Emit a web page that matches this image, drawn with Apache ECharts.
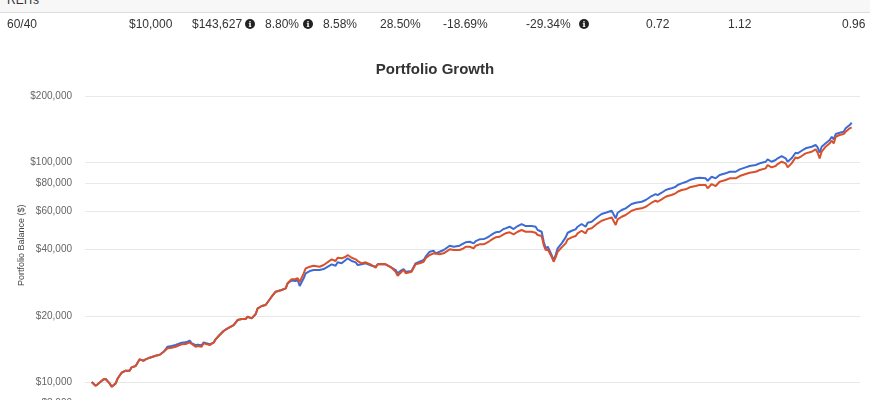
<!DOCTYPE html>
<html>
<head>
<meta charset="utf-8">
<title>Portfolio Growth</title>
<script src="https://cdn.jsdelivr.net/npm/echarts@6/dist/echarts.min.js"></script>
<style>
  html, body { margin: 0; padding: 0; background: #fff; width: 870px; height: 400px; overflow: hidden; }
  body { position: relative; font-family: 'Liberation Sans', Arial, Helvetica, sans-serif; color: #333; }
  #chart { position: absolute; left: 0; top: 0; width: 870px; height: 470px; }
  .band { position: absolute; left: 0; top: 0; width: 870px; height: 12px; background: #f7f7f7; border-bottom: 1px solid #dddddd; overflow: hidden; }
  .band span { position: absolute; left: 7px; top: -7px; font-size: 12px; line-height: 14px; color: #333; }
  .cell { position: absolute; top: 17px; font-size: 12px; line-height: 14px; white-space: nowrap; color: #333; }
  .info { position: absolute; top: 19px; width: 10px; height: 10px; border-radius: 50%; background: #222; color: #fff;
          font: bold 8px/10px 'DejaVu Serif', serif; text-align: center; }
</style>
</head>
<body>
<div id="chart"></div>
<div class="band"><span id="header"></span></div>
<div id="stats"></div>
<script>
// stats row above the chart
const statHeader = 'REITs';
const statCells = ['60/40', '$10,000', '$143,627', '8.80%', '8.58%', '28.50%', '-18.69%', '-29.34%', '0.72', '1.12', '0.96'];
const infoAfterCell = [2, 3, 7];

// months since Jan 1990 for each traced point
const startYear = 1990;
const monthOffsets = [0,2,3,4,6,7,9,10,12,13,15,17,18,19,20,22,23,24,26,27,29,32,34,36,38,40,42,45,47,49,50,52,53,55,56,57,59,61,62,64,
  66,68,71,73,75,77,78,80,82,83,85,87,88,90,92,93,95,97,98,100,102,103,104,106,107,109,111,112,114,116,117,120,122,123,125,127,128,130,132,133,
  135,137,138,140,142,143,145,147,148,150,152,153,155,156,157,158,160,162,164,166,167,169,171,172,174,176,177,179,181,182,184,186,187,189,191,192,194,196,197,199,
  201,202,204,206,207,209,211,213,215,217,218,220,222,223,225,226,227,228,230,231,232,233,235,237,238,240,242,243,245,247,248,250,251,253,255,257,258,260,262,263,
  265,267,268,270,272,273,275,277,278,280,282,283,285,287,288,290,292,293,295,297,299,302,304,307,308,310,312,314,317,319,322,324,327,329,332,334,337,338,340,342,
  343,345,347,348,350,352,353,355,357,360,362,363,364,365,367,369,370,371,372,374,376,377,379,380];

// blue line
const portfolioBalance = [10000,9620,9760,9690,10290,10320,9860,9520,9860,10390,11020,11260,11420,11260,11660,11820,11950,12680,12500,12680,
  12900,13170,13310,13730,14470,14580,14730,15090,15150,15410,15040,14730,14780,14680,15150,15040,14840,15150,15630,16350,
  17060,17540,18160,19140,19340,19340,19810,19480,20380,21630,22160,22390,22790,24420,25730,25460,26190,26660,28100,28930,
  28780,29080,27310,29610,31200,31960,32290,32630,32290,32630,32870,34280,33780,35000,34640,35860,36500,35480,35000,34030,
  34280,34640,34030,33780,33430,34280,34390,34280,33780,33080,32290,31200,32290,32630,31720,31960,31960,34640,35220,35860,
  37120,39110,39520,38460,39110,39810,40530,41650,41210,41950,41650,42700,43150,43430,42700,43740,44530,44670,45000,46090,
  47420,47910,48220,49600,49960,50810,49600,51180,52260,51180,50490,51180,50810,49080,48220,43430,40530,41210,37780,35860,
  37780,40530,42700,45470,47710,48720,49440,50810,52260,50810,52980,53540,54500,56410,58030,58830,58830,60070,55480,58830,
  60510,61600,62250,64430,65320,66000,66000,67190,68390,70060,71540,70800,72520,74600,75150,75940,77220,78610,80020,81110,
  82830,84320,84850,84320,82220,85740,84320,87280,88850,90350,90350,92650,94600,95900,96910,98650,100320,102870,100320,102120,
  103950,106480,103950,100320,103950,110220,109530,112560,115420,117370,119480,116630,110220,117370,121620,125900,130320,126820,134050,135890,
  137320,142300,147300,150890];

// red line (60/40)
const balance6040 = [10000,9620,9760,9690,10290,10320,9860,9520,9860,10390,11020,11260,11420,11260,11660,11820,11950,12680,12500,12680,
  12900,13170,13310,13730,14230,14320,14470,14840,14880,15150,14840,14470,14580,14470,14990,14880,14730,15090,15630,16350,
  17060,17540,18160,19140,19340,19340,19810,19480,20380,21630,22160,22390,22790,24420,25730,25460,26190,26660,28100,29300,
  29390,29610,28480,31200,32870,33430,33780,34280,33430,34030,34640,36120,35480,36730,36500,37120,37780,36730,36120,35480,
  34640,35000,34280,34030,33080,34280,34390,34280,33780,33080,31720,30420,31720,32290,31200,31720,31720,34280,34640,35220,
  36500,37780,38460,37780,38060,38460,39110,40110,39810,40230,39810,40530,41210,41210,40530,41650,42260,42260,42700,43740,
  45000,45470,45760,46920,47420,47910,46920,48220,49080,48220,47420,48220,47710,46580,46090,41950,39810,40110,37120,35220,
  36880,39110,40950,42700,44530,45470,46090,47420,48720,47420,49440,49960,50810,52650,54100,54900,54900,56060,51720,54900,
  56410,57430,58030,60070,60960,61600,61600,62640,63760,65320,66700,66000,67680,69550,70060,70800,72070,73280,74600,75150,
  76740,77790,78610,78610,75940,79440,77790,81370,82830,84320,84320,86370,88200,89410,90350,91970,93620,96910,94600,95900,
  97930,100320,98650,94600,98650,105040,103950,106480,109530,111380,114220,110220,103950,111380,117370,121620,124980,121620,130320,132660,
  134050,137320,142300,143627];

const yTickValues = [8000, 10000, 20000, 40000, 60000, 80000, 100000, 200000];

// stats row layout
const cellX = [7, 129, 192, 265, 323, 380, 443, 526, 646, 728, 842];
const infoX = [245, 303, 579];

document.getElementById('header').textContent = statHeader;
const stats = document.getElementById('stats');
statCells.forEach((txt, i) => {
  const d = document.createElement('div');
  d.className = 'cell';
  d.style.left = cellX[i] + 'px';
  d.textContent = txt;
  stats.appendChild(d);
});
infoAfterCell.forEach((c, i) => {
  const d = document.createElement('div');
  d.className = 'info';
  d.style.left = infoX[i] + 'px';
  d.textContent = 'i';
  stats.appendChild(d);
});

const dates = monthOffsets.map(m => new Date(startYear, m, 1).getTime());
const monthMs = 30.44 * 86400000;
const toPairs = arr => dates.map((d, i) => [d, arr[i]]);

const chart = echarts.init(document.getElementById('chart'));
chart.setOption({
  animation: false,
  title: {
    text: 'Portfolio Growth',
    left: 'center',
    top: 62,
    padding: 0,
    textStyle: { fontSize: 15, fontWeight: 'bold', color: '#333', fontFamily: 'Liberation Sans, Arial, sans-serif' }
  },
  grid: { left: 85, right: 10, top: 74.5, height: 341.6, outerBoundsMode: 'none' },
  xAxis: {
    type: 'time',
    min: dates[0] - 3.35 * monthMs,
    max: dates[dates.length - 1] + 4.15 * monthMs,
    splitLine: { show: false },
    axisLine: { lineStyle: { color: '#ccc' } },
    axisLabel: { color: '#666', fontSize: 10 }
  },
  yAxis: {
    type: 'log',
    logBase: 10,
    min: 7000,
    max: 250000,
    name: 'Portfolio Balance ($)',
    nameLocation: 'middle',
    nameGap: 59,
    nameMoveOverlap: false,
    nameTextStyle: { color: '#444', fontSize: 9, fontFamily: 'Liberation Sans, Arial, sans-serif' },
    axisLine: { show: false },
    axisTick: { show: false, customValues: yTickValues },
    axisLabel: {
      customValues: yTickValues,
      formatter: v => '$' + Math.round(v).toLocaleString('en-US'),
      color: '#666',
      fontSize: 10,
      margin: 13,
      fontFamily: 'Liberation Sans, Arial, sans-serif'
    },
    splitLine: { lineStyle: { color: '#e8e8e8', width: 1 } }
  },
  series: [
    {
      name: 'Portfolio 1',
      type: 'line',
      data: toPairs(portfolioBalance),
      showSymbol: false,
      lineStyle: { width: 2, color: '#3d6bd4' },
      itemStyle: { color: '#3d6bd4' }
    },
    {
      name: '60/40',
      type: 'line',
      data: toPairs(balance6040),
      showSymbol: false,
      lineStyle: { width: 2, color: '#d9502a' },
      itemStyle: { color: '#d9502a' }
    }
  ]
});
</script>
</body>
</html>
